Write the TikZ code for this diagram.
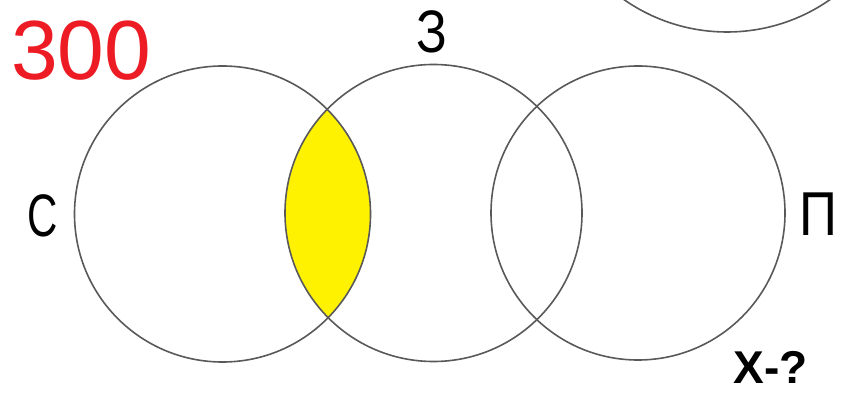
\documentclass[tikz,border=0pt]{standalone}
\usepackage{fontspec}
\setmainfont{Liberation Sans}
\begin{document}
\begin{tikzpicture}[x=1pt,y=1pt,
  ring/.style={draw=black!65, line width=1.6pt},
  lbl/.style={inner sep=0pt, text=black},
]
\useasboundingbox (0,0) rectangle (842,393);
\clip (0,0) rectangle (842,393);
% yellow lens
\begin{scope}
  \clip (222.5,179) circle (148);
  \fill[fill={rgb,255:red,255;green,242;blue,0}] (433.5,180) circle (148);
\end{scope}
\draw[ring] (222.5,179) circle (148);
\draw[ring] (433.5,180) circle (148.5);
\draw[ring] (638,180) circle (147);
\draw[ring] (727,541) circle (180);
\node[lbl, text={rgb,255:red,237;green,28;blue,36}, font=\fontsize{84}{84}\selectfont, anchor=base west] (n300) at (11,313) {300};
\node[lbl, font=\fontsize{60}{60}\selectfont, xscale=0.85, transform shape] (z) at (432,361) {З};
\node[lbl, font=\fontsize{60}{60}\selectfont, xscale=0.7, transform shape] (s) at (43,177) {С};
\node[lbl, font=\fontsize{62}{62}\selectfont, xscale=0.85, transform shape] (p) at (818,179) {П};
\node[lbl, font=\bfseries\fontsize{46}{46}\selectfont] (x) at (771,26) {Х-?};
\end{tikzpicture}
\end{document}
